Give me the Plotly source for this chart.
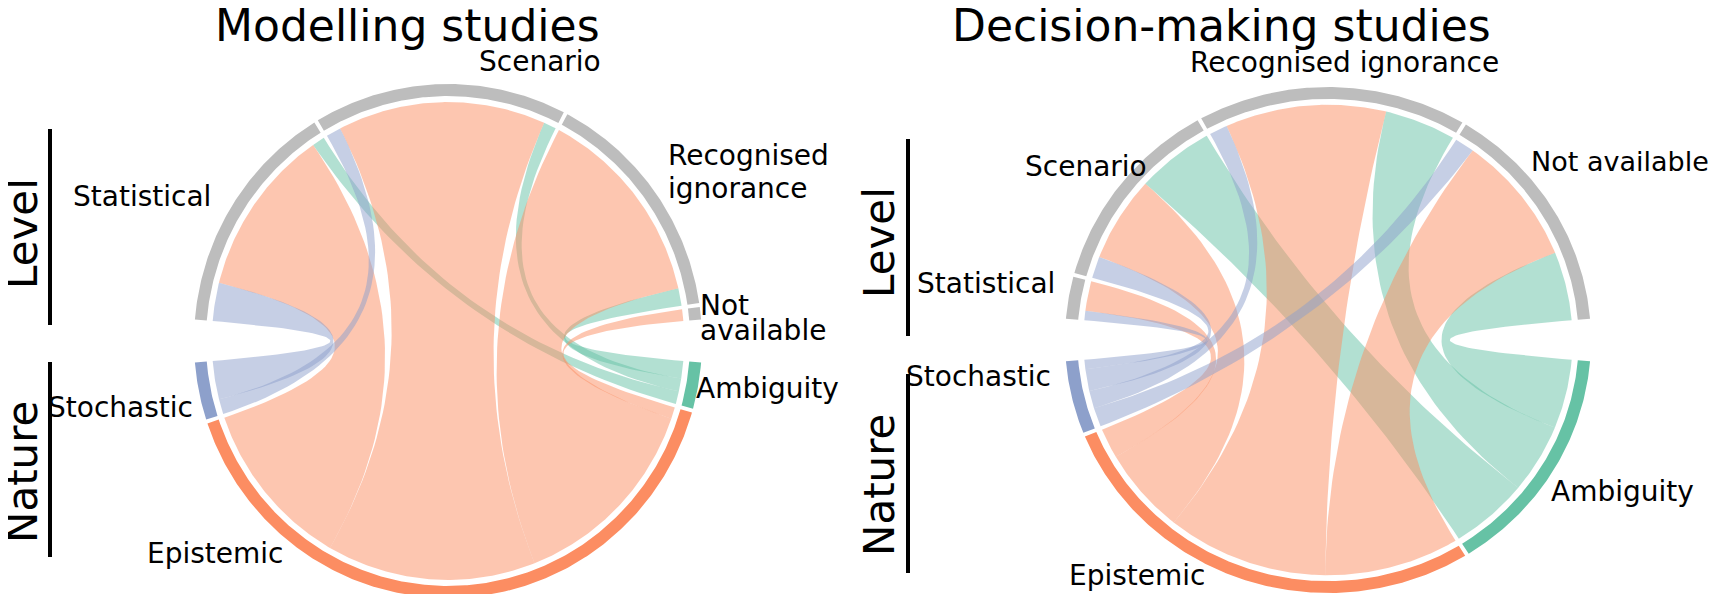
import numpy as np
import plotly.graph_objects as go

level_cats = ["Statistical", "Scenario", "Recognised ignorance", "Not available"]
nature_cats = ["Stochastic", "Epistemic", "Ambiguity"]

# number of studies, rows = nature, cols = level
modelling_flows = [
    [3.3, 1.3, 0.0, 0.0],
    [14.6, 18.2, 17.5, 1.0],
    [1.1, 1.1, 1.5, 0.0],
]
decision_flows = [
    [0.7, 1.6, 1.3, 1.4],
    [2.2, 6.3, 11.5, 9.6],
    [0.0, 5.6, 5.1, 5.1],
]

nature_colors = ["#8da0cb", "#fc8d62", "#66c2a5"]
level_color = "#bdbdbd"
FONT = "DejaVu Sans"

W, H = 1720, 594
HALF_GAP = 4.8   # deg, gap around 0 and 180
CAT_GAP = 0.9    # deg, gap between neighbouring categories


def rgba(hx, a):
    hx = hx.lstrip("#")
    r, g, b = int(hx[0:2], 16), int(hx[2:4], 16), int(hx[4:6], 16)
    return f"rgba({r},{g},{b},{a})"


def chord(fig, flows, cx, cy, rx, ry):
    m = np.array(flows, dtype=float)
    lev_tot = m.sum(axis=0)
    nat_tot = m.sum(axis=1)
    span = 180 - 2 * HALF_GAP

    # level arcs on the top half, clockwise from the left gap
    lev_unit = (span - CAT_GAP * (len(lev_tot) - 1)) / lev_tot.sum()
    lev = []
    cur = 180 - HALF_GAP
    for v in lev_tot:
        lev.append((cur - v * lev_unit, cur))
        cur = cur - v * lev_unit - CAT_GAP

    # nature arcs on the bottom half, counter-clockwise from the left gap
    nat_unit = (span - CAT_GAP * (len(nat_tot) - 1)) / nat_tot.sum()
    nat = []
    cur = 180 + HALF_GAP
    for v in nat_tot:
        nat.append((cur, cur + v * nat_unit))
        cur = cur + v * nat_unit + CAT_GAP

    k_out, k_in = 1.0, 1 - 12 / 256
    k_rib = 1 - 18 / 256

    def arc(a0, a1, k):
        n = max(4, int(abs(a1 - a0) * 2))
        t = np.radians(np.linspace(a0, a1, n))
        return list(np.cos(t) * k), list(np.sin(t) * k)

    def on(a, k):
        return np.cos(np.radians(a)) * k, np.sin(np.radians(a)) * k

    def bez(p0, p2, n=50):
        # quadratic curve with the control point in the centre
        t = np.linspace(0, 1, n)
        x = (1 - t) ** 2 * p0[0] + t ** 2 * p2[0]
        y = (1 - t) ** 2 * p0[1] + t ** 2 * p2[1]
        return list(x), list(y)

    src = {}
    for i, (lo, hi) in enumerate(nat):
        c = lo
        for j in range(m.shape[1]):
            src[(i, j)] = (c, c + m[i, j] * nat_unit)
            c += m[i, j] * nat_unit
    tgt = {}
    for j, (lo, hi) in enumerate(lev):
        c = hi
        for i in range(m.shape[0]):
            tgt[(i, j)] = (c - m[i, j] * lev_unit, c)
            c -= m[i, j] * lev_unit

    # green first, then orange, blue on top
    for i in [2, 1, 0]:
        for j in range(m.shape[1]):
            if m[i, j] <= 0:
                continue
            s0, s1 = src[(i, j)]
            t0, t1 = tgt[(i, j)]
            xs, ys = arc(s0, s1, k_rib)
            bx, by = bez(on(s1, k_rib), on(t0, k_rib))
            xs += bx; ys += by
            ax, ay = arc(t0, t1, k_rib)
            xs += ax; ys += ay
            bx, by = bez(on(t1, k_rib), on(s0, k_rib))
            xs += bx; ys += by
            fig.add_trace(go.Scatter(x=[cx + rx * x for x in xs], y=[cy - ry * y for y in ys],
                                     mode="lines", fill="toself",
                                     fillcolor=rgba(nature_colors[i], 0.5),
                                     line=dict(width=0), hoverinfo="skip",
                                     showlegend=False))

    def band(a0, a1, color):
        ox, oy = arc(a0, a1, k_out)
        ix, iy = arc(a1, a0, k_in)
        xs = ox + ix
        ys = oy + iy
        fig.add_trace(go.Scatter(x=[cx + rx * x for x in xs], y=[cy - ry * y for y in ys],
                                 mode="lines", fill="toself", fillcolor=color,
                                 line=dict(width=0), hoverinfo="skip", showlegend=False))

    for lo, hi in lev:
        band(lo, hi, level_color)
    for i, (lo, hi) in enumerate(nat):
        band(lo, hi, nature_colors[i])


fig = go.Figure()
chord(fig, modelling_flows, 440, 333, 254, 257)
chord(fig, decision_flows, 1320, 332, 263, 253)

ann = []


def txt(x, y, s, size=28, xa="center", angle=0):
    ann.append(dict(x=x, y=y, text=s, showarrow=False, xanchor=xa, yanchor="middle",
                    textangle=angle, font=dict(family=FONT, size=size, color="black")))


txt(399, 17, "Modelling studies", size=44)
txt(1213, 17, "Decision-making studies", size=44)

# left panel labels
txt(532, 53, "Scenario")
txt(658, 147, "Recognised", xa="left")
txt(658, 180, "ignorance", xa="left")
txt(134, 188, "Statistical")
txt(690, 297, "Not", xa="left")
txt(690, 322, "available", xa="left")
txt(686, 380, "Ambiguity", xa="left")
txt(112, 399, "Stochastic")
txt(207, 545, "Epistemic")

# right panel labels
txt(1336, 54, "Recognised ignorance")
txt(1078, 158, "Scenario")
txt(1521, 153, "Not available", size=27, xa="left")
txt(978, 275, "Statistical")
txt(970, 368, "Stochastic")
txt(1614, 483, "Ambiguity")
txt(1129, 567, "Epistemic")

# group labels
txt(14, 226, "Level", size=42, angle=-90)
txt(14, 464, "Nature", size=42, angle=-90)
txt(871, 235, "Level", size=42, angle=-90)
txt(871, 477, "Nature", size=42, angle=-90)

shapes = []
for x, y0, y1 in [(42, 121, 317), (42, 354, 549), (900, 131, 328), (900, 366, 565)]:
    shapes.append(dict(type="line", x0=x, x1=x, y0=y0, y1=y1, xref="x", yref="y",
                       line=dict(color="black", width=4)))

fig.update_layout(
    width=W, height=H,
    margin=dict(l=0, r=0, t=0, b=0),
    paper_bgcolor="white", plot_bgcolor="white",
    xaxis=dict(range=[0, W], visible=False, fixedrange=True),
    yaxis=dict(range=[H, 0], visible=False, fixedrange=True),
    annotations=ann, shapes=shapes,
)

fig.write_html("out.html")
